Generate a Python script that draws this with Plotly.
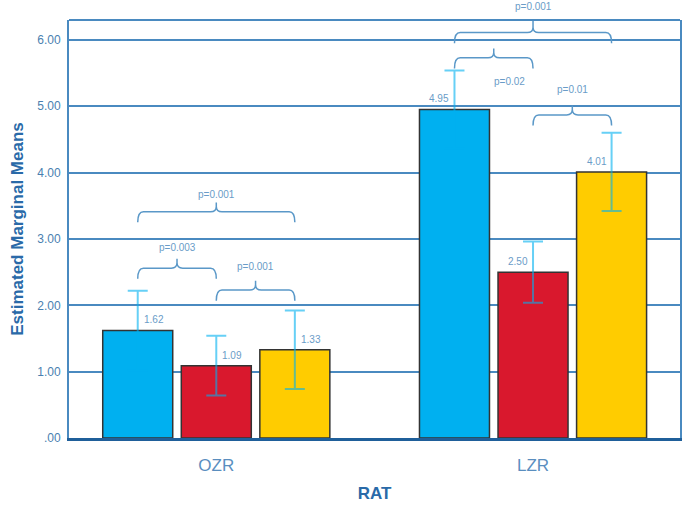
import plotly.graph_objects as go

# categories and series values (means and +/- error)
groups = ["OZR", "LZR"]
blue_mean = [1.62, 4.95]
red_mean = [1.09, 2.50]
yellow_mean = [1.33, 4.01]
blue_err = [0.60, 0.59]
red_err = [0.45, 0.46]
yellow_err = [0.59, 0.59]

y_ticks = [0, 1, 2, 3, 4, 5, 6]
y_ticklabels = [".00", "1.00", "2.00", "3.00", "4.00", "5.00", "6.00"]

# significance comparisons: group index, bar from, bar to, p text
cmp_group = [0, 0, 0, 1, 1, 1]
cmp_from = [0, 1, 0, 0, 1, 0]
cmp_to = [1, 2, 2, 1, 2, 2]
cmp_text = ["p=0.003", "p=0.001", "p=0.001", "p=0.02", "p=0.01", "p=0.001"]
cmp_level = [2.56, 2.23, 3.41, 5.73, 4.87, 6.11]
cmp_text_y = [2.87, 2.58, 3.67, 5.37, 5.25, 6.50]

colors = ["#00b0f0", "#d9182d", "#ffcc00"]
means = [blue_mean, red_mean, yellow_mean]
errs = [blue_err, red_err, yellow_err]

slot = 0.248
bar_w = 0.221
y_top = 6.3
line_col = "#4a8ac0"
txt_col = "#6a9cc8"
font = "Liberation Sans, Arial, sans-serif"

fig = go.Figure()
xs = list(range(len(groups)))
for i in range(3):
    fig.add_trace(go.Bar(
        x=xs, y=means[i],
        width=bar_w, offset=(i - 1) * slot - bar_w / 2,
        marker=dict(color=colors[i], line=dict(color="#333333", width=1.5)),
        error_y=dict(type="data", array=errs[i], visible=True,
                     color="rgba(0,176,240,0.6)", thickness=2, width=10),
        showlegend=False,
    ))

# value labels
for i in range(3):
    for g in xs:
        cx = g + (i - 1) * slot
        right = g == 0
        fig.add_annotation(
            x=cx, y=means[i][g] + 0.16, text="%.2f" % means[i][g],
            showarrow=False, xanchor="left" if right else "right",
            xshift=4 if right else -3,
            font=dict(size=10, color=txt_col, family=font),
        )


def bracket(x0, x1, yb, arm, tip, r=0.018):
    xm = (x0 + x1) / 2
    ry = 0.08
    return (f"M {x0},{yb - arm} Q {x0},{yb} {x0 + r},{yb} "
            f"L {xm - r},{yb} Q {xm},{yb} {xm},{yb + ry} L {xm},{yb + tip} "
            f"M {xm},{yb + ry} Q {xm},{yb} {xm + r},{yb} "
            f"L {x1 - r},{yb} Q {x1},{yb} {x1},{yb - arm}")


for k in range(len(cmp_text)):
    g = cmp_group[k]
    x0 = g + (cmp_from[k] - 1) * slot
    x1 = g + (cmp_to[k] - 1) * slot
    yb = cmp_level[k]
    above = cmp_text_y[k] > y_top
    tip = y_top - yb if above else 0.14
    fig.add_shape(type="path", path=bracket(x0, x1, yb, 0.16, tip),
                  xref="x", yref="y", line=dict(color="#5a98c8", width=1.5))
    # the p=0.02 label sits under its bracket, right of the tick
    dx = 16 if cmp_text_y[k] < yb else 0
    fig.add_annotation(x=(x0 + x1) / 2,
                       y=cmp_text_y[k] / y_top if above else cmp_text_y[k],
                       yref="paper" if above else "y",
                       text=cmp_text[k], showarrow=False, xshift=dx,
                       yanchor="middle",
                       font=dict(size=10, color=txt_col, family=font))

# top frame line
fig.add_shape(type="line", xref="paper", yref="paper", x0=0, x1=1, y0=1, y1=1,
              line=dict(color=line_col, width=2))

fig.update_layout(
    width=685, height=507,
    margin=dict(l=69, r=5, t=20, b=69),
    paper_bgcolor="white", plot_bgcolor="white",
    barmode="overlay",
    font=dict(family=font),
    xaxis=dict(
        range=[-0.465, 1.464], tickvals=xs, ticktext=groups,
        showgrid=False, zeroline=False, ticks="", automargin=False,
        showline=True, linecolor="#1f5f9a", linewidth=3,
        ticklabelstandoff=10,
        tickfont=dict(size=17, color="#5a8ebf"),
        title=dict(text="<b>RAT</b>", font=dict(size=17, color="#2a6aa8"), standoff=13),
    ),
    yaxis=dict(
        range=[0, y_top], tickvals=y_ticks, ticktext=y_ticklabels,
        showgrid=True, gridcolor=line_col, gridwidth=2, zeroline=False,
        showline=True, mirror=True, linecolor=line_col, linewidth=2,
        ticks="", automargin=False, ticklabelstandoff=4,
        tickfont=dict(size=12, color="#4a7fb0"),
        title=dict(text="<b>Estimated Marginal Means</b>",
                   font=dict(size=17, color="#2a6aa8"), standoff=9),
    ),
)

# drop the default page margin so the figure fills the window
fig.write_html("out.html",
               config={"displayModeBar": False},
               post_script="document.body.style.margin='0';"
                           "document.body.style.overflow='hidden';")
